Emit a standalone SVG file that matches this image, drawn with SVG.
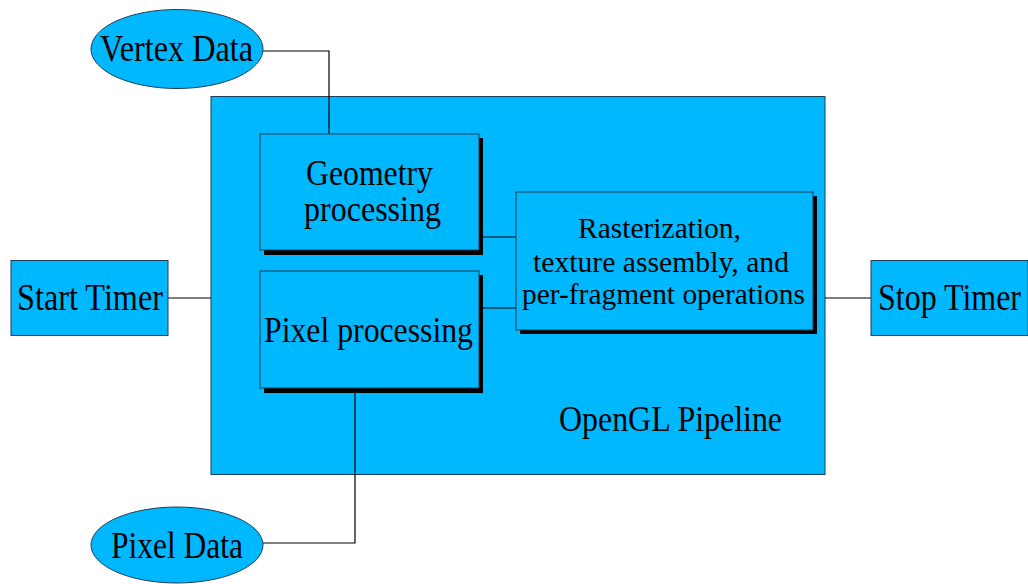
<svg xmlns="http://www.w3.org/2000/svg" width="1028" height="584" viewBox="0 0 1028 584">
  <style>
    .fill { fill: #00b8ff; stroke: #1c3f55; stroke-width: 1; }
    .shadow { fill: #000000; }
    .wire { fill: none; stroke: #000000; stroke-width: 1.2; }
    text { font-family: "Liberation Serif", "Times New Roman", serif; fill: #000000; }
    .outer { font-size: 37px; }
    .stage { font-size: 35px; }
    .raster { font-size: 30px; }
  </style>
  <rect width="1028" height="584" fill="#ffffff"/>

  <!-- pipeline container -->
  <g id="pipeline">
    <rect class="fill" x="211" y="96.5" width="614" height="378"/>
    <text class="stage" x="559" y="431" textLength="223" lengthAdjust="spacingAndGlyphs">OpenGL Pipeline</text>
  </g>

  <!-- connectors -->
  <g id="connectors">
    <polyline class="wire" points="263,51 329,51 329,134"/>
    <polyline class="wire" points="168,298 211,298"/>
    <polyline class="wire" points="825,298 871,298"/>
    <polyline class="wire" points="482,237 516,237"/>
    <polyline class="wire" points="482,308 516,308"/>
    <polyline class="wire" points="355,392 355,543 263,543"/>
  </g>

  <g id="vertex-data">
    <ellipse class="fill" cx="177" cy="49" rx="86" ry="39.5"/>
    <text class="outer" x="100" y="61" textLength="153" lengthAdjust="spacingAndGlyphs">Vertex Data</text>
  </g>

  <g id="geometry">
    <rect class="shadow" x="264" y="138" width="219" height="117"/>
    <rect class="fill" x="260" y="134" width="219" height="116"/>
    <text class="stage" x="306" y="185" textLength="127" lengthAdjust="spacingAndGlyphs">Geometry</text>
    <text class="stage" x="304" y="221" textLength="137" lengthAdjust="spacingAndGlyphs">processing</text>
  </g>

  <g id="pixel-processing">
    <rect class="shadow" x="264" y="275" width="219" height="118"/>
    <rect class="fill" x="260" y="271" width="219" height="117"/>
    <text class="stage" x="264" y="342" textLength="209" lengthAdjust="spacingAndGlyphs">Pixel processing</text>
  </g>

  <g id="rasterization">
    <rect class="shadow" x="520" y="196" width="297" height="138"/>
    <rect class="fill" x="516" y="192" width="297" height="138"/>
    <text class="raster" x="578" y="238" textLength="163" lengthAdjust="spacingAndGlyphs">Rasterization,</text>
    <text class="raster" x="533" y="272" textLength="256" lengthAdjust="spacingAndGlyphs">texture assembly, and</text>
    <text class="raster" x="522" y="304" textLength="283" lengthAdjust="spacingAndGlyphs">per-fragment operations</text>
  </g>

  <g id="start-timer">
    <rect class="fill" x="11" y="260.5" width="157" height="75"/>
    <text class="outer" x="17" y="310" textLength="146" lengthAdjust="spacingAndGlyphs">Start Timer</text>
  </g>

  <g id="stop-timer">
    <rect class="fill" x="871" y="260.5" width="157" height="75"/>
    <text class="outer" x="878" y="310" textLength="143" lengthAdjust="spacingAndGlyphs">Stop Timer</text>
  </g>

  <g id="pixel-data">
    <ellipse class="fill" cx="177" cy="545" rx="86" ry="38"/>
    <text class="outer" x="111" y="558" textLength="132" lengthAdjust="spacingAndGlyphs">Pixel Data</text>
  </g>
</svg>
